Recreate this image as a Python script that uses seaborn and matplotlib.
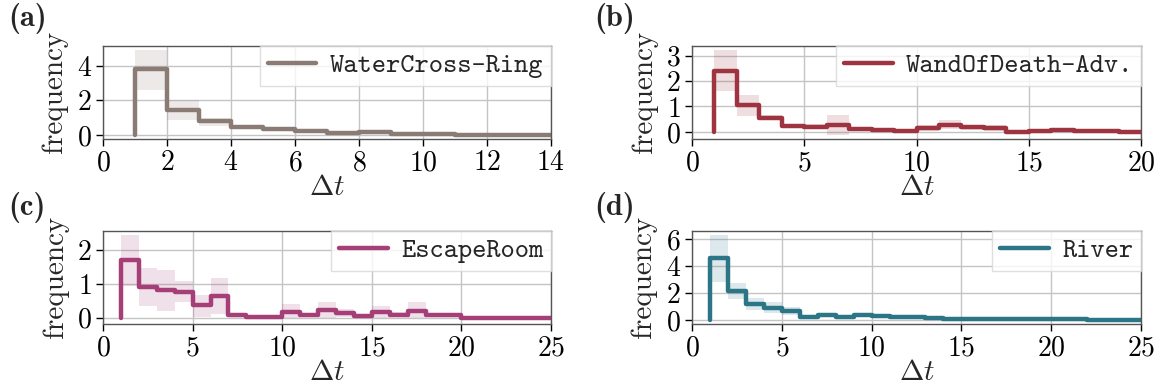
import matplotlib
matplotlib.use("Agg")
import matplotlib.pyplot as plt
import seaborn as sns
import pandas as pd

# Inter-event time distributions (mean frequency per Δt bin with confidence band).
# Each value at Δt = k is drawn over the bin (k-1, k] (steps-pre).
dt_a = list(range(1, 15))
freq_a = [0.0, 3.79, 1.44, 0.82, 0.44, 0.36, 0.26, 0.10, 0.20, 0.05, 0.05, 0.01, 0.01, 0.01]
lo_a = [0.0, 2.62, 0.84, 0.52, 0.34, 0.27, 0.17, 0.04, 0.11, 0.01, 0.01, 0.0, 0.0, 0.0]
hi_a = [0.0, 4.90, 2.02, 1.00, 0.55, 0.46, 0.36, 0.16, 0.29, 0.10, 0.09, 0.03, 0.03, 0.03]

dt_b = list(range(1, 21))
freq_b = [0.0, 2.41, 1.04, 0.56, 0.24, 0.21, 0.26, 0.11, 0.08, 0.03, 0.16, 0.27, 0.18,
          0.14, 0.01, 0.03, 0.06, 0.02, 0.02, 0.01]
lo_b = [0.0, 1.59, 0.63, 0.45, 0.16, 0.12, -0.12, 0.05, 0.03, 0.0, 0.05, 0.10, 0.08,
        0.04, 0.0, 0.0, 0.0, 0.0, 0.0, 0.0]
hi_b = [0.0, 3.23, 1.46, 0.66, 0.32, 0.30, 0.66, 0.17, 0.13, 0.07, 0.26, 0.47, 0.28,
        0.26, 0.03, 0.07, 0.12, 0.04, 0.05, 0.03]

dt_c = list(range(1, 26))
freq_c = [0.0, 1.71, 0.91, 0.81, 0.77, 0.36, 0.64, 0.08, 0.03, 0.03, 0.16, 0.08, 0.21,
          0.13, 0.04, 0.16, 0.09, 0.18, 0.07, 0.07, 0.0, 0.0, 0.0, 0.0, 0.0]
lo_c = [0.0, 0.94, 0.35, 0.20, 0.46, 0.03, 0.10, 0.03, 0.0, 0.0, 0.0, 0.01, 0.0,
        0.02, 0.0, 0.0, 0.02, 0.0, 0.01, 0.01, 0.0, 0.0, 0.0, 0.0, 0.0]
hi_c = [0.0, 2.45, 1.46, 1.41, 1.07, 0.67, 1.17, 0.14, 0.06, 0.06, 0.39, 0.15, 0.45,
        0.24, 0.08, 0.34, 0.17, 0.45, 0.13, 0.13, 0.01, 0.01, 0.01, 0.01, 0.01]

dt_d = list(range(1, 26))
freq_d = [0.0, 4.59, 2.16, 1.17, 0.92, 0.67, 0.25, 0.40, 0.22, 0.38, 0.28, 0.25, 0.22,
          0.12, 0.07, 0.06, 0.06, 0.06, 0.07, 0.06, 0.08, 0.04, 0.01, 0.02, 0.03]
lo_d = [0.0, 2.80, 1.56, 0.74, 0.55, 0.38, 0.12, 0.22, 0.10, 0.20, 0.15, 0.13, 0.11,
        0.05, 0.02, 0.01, 0.01, 0.01, 0.02, 0.01, 0.02, 0.0, 0.0, 0.0, 0.0]
hi_d = [0.0, 6.33, 2.73, 1.66, 1.35, 1.00, 0.40, 0.55, 0.35, 0.55, 0.40, 0.37, 0.33,
        0.20, 0.12, 0.11, 0.11, 0.11, 0.12, 0.11, 0.14, 0.08, 0.03, 0.05, 0.06]

names = ["WaterCross-Ring", "WandOfDeath-Adv.", "EscapeRoom", "River"]
panel_tags = ["(a)", "(b)", "(c)", "(d)"]
colors = ["#8a7b75", "#9e3440", "#a63f78", "#2b7586"]

sns.set_theme(style="whitegrid")
plt.rcParams.update({
    "font.family": ["cmr10", "DejaVu Serif"],
    "mathtext.fontset": "cm",
    "axes.formatter.use_mathtext": True,
    "axes.edgecolor": "#555555",
    "axes.linewidth": 1.0,
    "grid.color": "#c4c4c4",
    "grid.linewidth": 1.0,
    "xtick.bottom": True,
    "ytick.left": True,
    "xtick.color": "black",
    "ytick.color": "black",
    "xtick.major.size": 5,
    "ytick.major.size": 5,
    "xtick.major.width": 1.0,
    "ytick.major.width": 1.0,
})

fig = plt.figure(figsize=(11.58, 3.89), dpi=100)

W, H = 1158, 389
boxes = [(103, 45.7, 551, 139), (692, 45.7, 1141, 139),
         (103, 230.7, 551, 324), (692, 230.7, 1141, 324)]
axes = []
for (x0, y0, x1, y1) in boxes:
    axes.append(fig.add_axes([x0 / W, 1 - y1 / H, (x1 - x0) / W, (y1 - y0) / H]))

series = [(dt_a, freq_a, lo_a, hi_a), (dt_b, freq_b, lo_b, hi_b),
          (dt_c, freq_c, lo_c, hi_c), (dt_d, freq_d, lo_d, hi_d)]
xlims = [(0, 14), (0, 20), (0, 25), (0, 25)]
ylims = [(-0.23, 5.15), (-0.28, 3.39), (-0.19, 2.57), (-0.30, 6.65)]
xticks = [range(0, 15, 2), range(0, 21, 5), range(0, 26, 5), range(0, 26, 5)]
yticks = [[0, 2, 4], [0, 1, 2, 3], [0, 1, 2], [0, 2, 4, 6]]

for ax, (dt, fr, lo, hi), name, col, xl, yl, xt, yt in zip(
        axes, series, names, colors, xlims, ylims, xticks, yticks):
    df = pd.DataFrame({"dt": dt, "freq": fr})
    ax.fill_between(dt, lo, hi, step="pre", color=col, alpha=0.16, linewidth=0)
    sns.lineplot(data=df, x="dt", y="freq", ax=ax, color=col, linewidth=3.2,
                 drawstyle="steps-pre", label=name, errorbar=None)
    ax.set_xlim(*xl)
    ax.set_ylim(*yl)
    ax.set_xticks(list(xt))
    ax.set_yticks(yt)
    ax.tick_params(labelsize=20, pad=3)
    ax.set_xlabel(r"$\Delta t$", fontsize=21, labelpad=-1)
    ax.set_ylabel("frequency", fontsize=21, labelpad=6)
    for s in ax.spines.values():
        s.set_color("#555555")
    leg = ax.legend(loc="upper right", borderaxespad=0.0, fancybox=False,
                    framealpha=0.8, edgecolor="#d8d8d8", handlelength=1.8,
                    handletextpad=0.5, borderpad=0.28,
                    prop={"family": ["cmtt10", "DejaVu Sans Mono"], "size": 19.5})
    leg.get_frame().set_linewidth(1.0)

tag_pos = [(8, 18), (594, 18), (8, 207), (594, 207)]
for (px, py), tag in zip(tag_pos, panel_tags):
    fig.text(px / W, 1 - py / H, tag, fontsize=22, fontweight="bold",
             family=["cmb10", "DejaVu Serif"], va="center", ha="left")

fig.savefig("out.png", dpi=100)
